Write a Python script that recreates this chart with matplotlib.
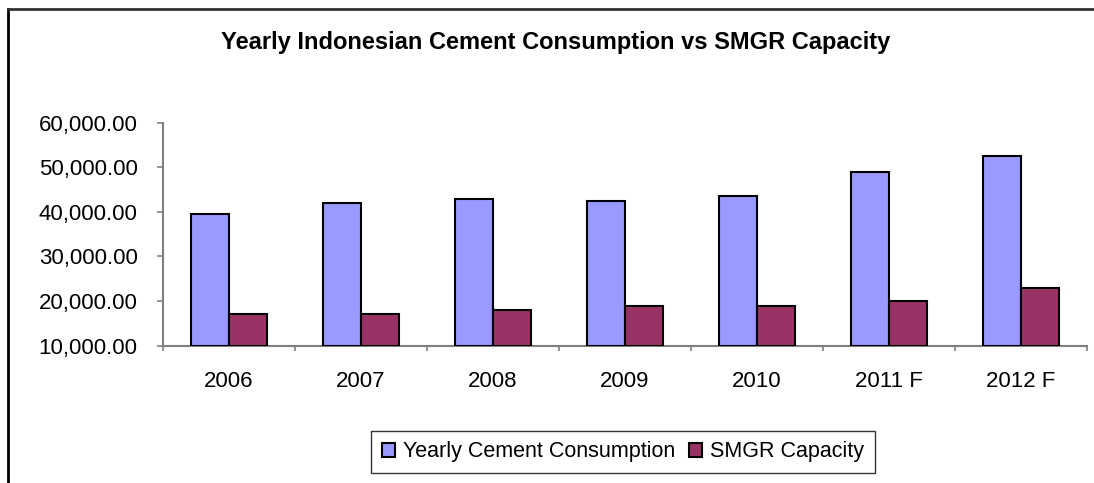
import numpy as np
import matplotlib.pyplot as plt
from matplotlib.lines import Line2D

plt.rcParams['font.family'] = ['Liberation Sans', 'DejaVu Sans']

years = ['2006', '2007', '2008', '2009', '2010', '2011 F', '2012 F']
consumption = [39500, 41900, 43000, 42500, 43500, 49000, 52500]
capacity = [17000, 17000, 18000, 19000, 19000, 20000, 23000]

W, H = 1094, 483
fig = plt.figure(figsize=(W / 100, H / 100), dpi=100)
ax = fig.add_axes([163 / W, 1 - 345.7 / H, (1087 - 163) / W, (345.7 - 122.7) / H])

x = np.arange(len(years))
w = 0.29
ax.bar(x - w / 2, np.array(consumption) - 10000, w, bottom=10000, color='#9999FF',
       edgecolor='black', linewidth=1.5, label='Yearly Cement Consumption', zorder=3)
ax.bar(x + w / 2, np.array(capacity) - 10000, w, bottom=10000, color='#993366',
       edgecolor='black', linewidth=1.5, label='SMGR Capacity', zorder=3)

ax.set_xlim(-0.5, len(years) - 0.5)
ax.set_ylim(10000, 60000)
ax.set_yticks(np.arange(10000, 60001, 10000))
ax.set_yticklabels([f'{v:,.2f}' for v in np.arange(10000, 60001, 10000)], fontsize=16)
ax.set_xticks(np.arange(-0.5, len(years), 1))
ax.set_xticklabels([])
ax.set_xticks(x, minor=True)
ax.set_xticklabels(years, minor=True, fontsize=16)
ax.tick_params(axis='x', which='minor', length=0, pad=18)
ax.tick_params(axis='x', which='major', length=3.6, color='#808080', width=1.2)
ax.tick_params(axis='y', length=4.3, color='#808080', width=1.2, pad=14)

for s in ['top', 'right']:
    ax.spines[s].set_visible(False)
for s in ['left', 'bottom']:
    ax.spines[s].set_color('#808080')
    ax.spines[s].set_linewidth(1.5)

fig.text(556 / W, 1 - 42 / H, 'Yearly Indonesian Cement Consumption vs SMGR Capacity',
         ha='center', va='center', fontsize=17, fontweight='bold')

leg = fig.legend(loc='center', bbox_to_anchor=(623 / W, 1 - 452 / H), ncol=2,
                 fontsize=15.5, frameon=True, fancybox=False, edgecolor='black',
                 handlelength=0.6, handleheight=0.6, handletextpad=0.4, columnspacing=0.6,
                 borderpad=0.5)
leg.get_frame().set_linewidth(1.0)

# outer chart border (left and top visible)
fig.add_artist(Line2D([8 / W, 8 / W], [0, 1 - 9 / H], transform=fig.transFigure,
                      color='black', linewidth=2))
fig.add_artist(Line2D([8 / W, 1], [1 - 9 / H, 1 - 9 / H], transform=fig.transFigure,
                      color='#333333', linewidth=2))

fig.savefig('out.png', dpi=100)
